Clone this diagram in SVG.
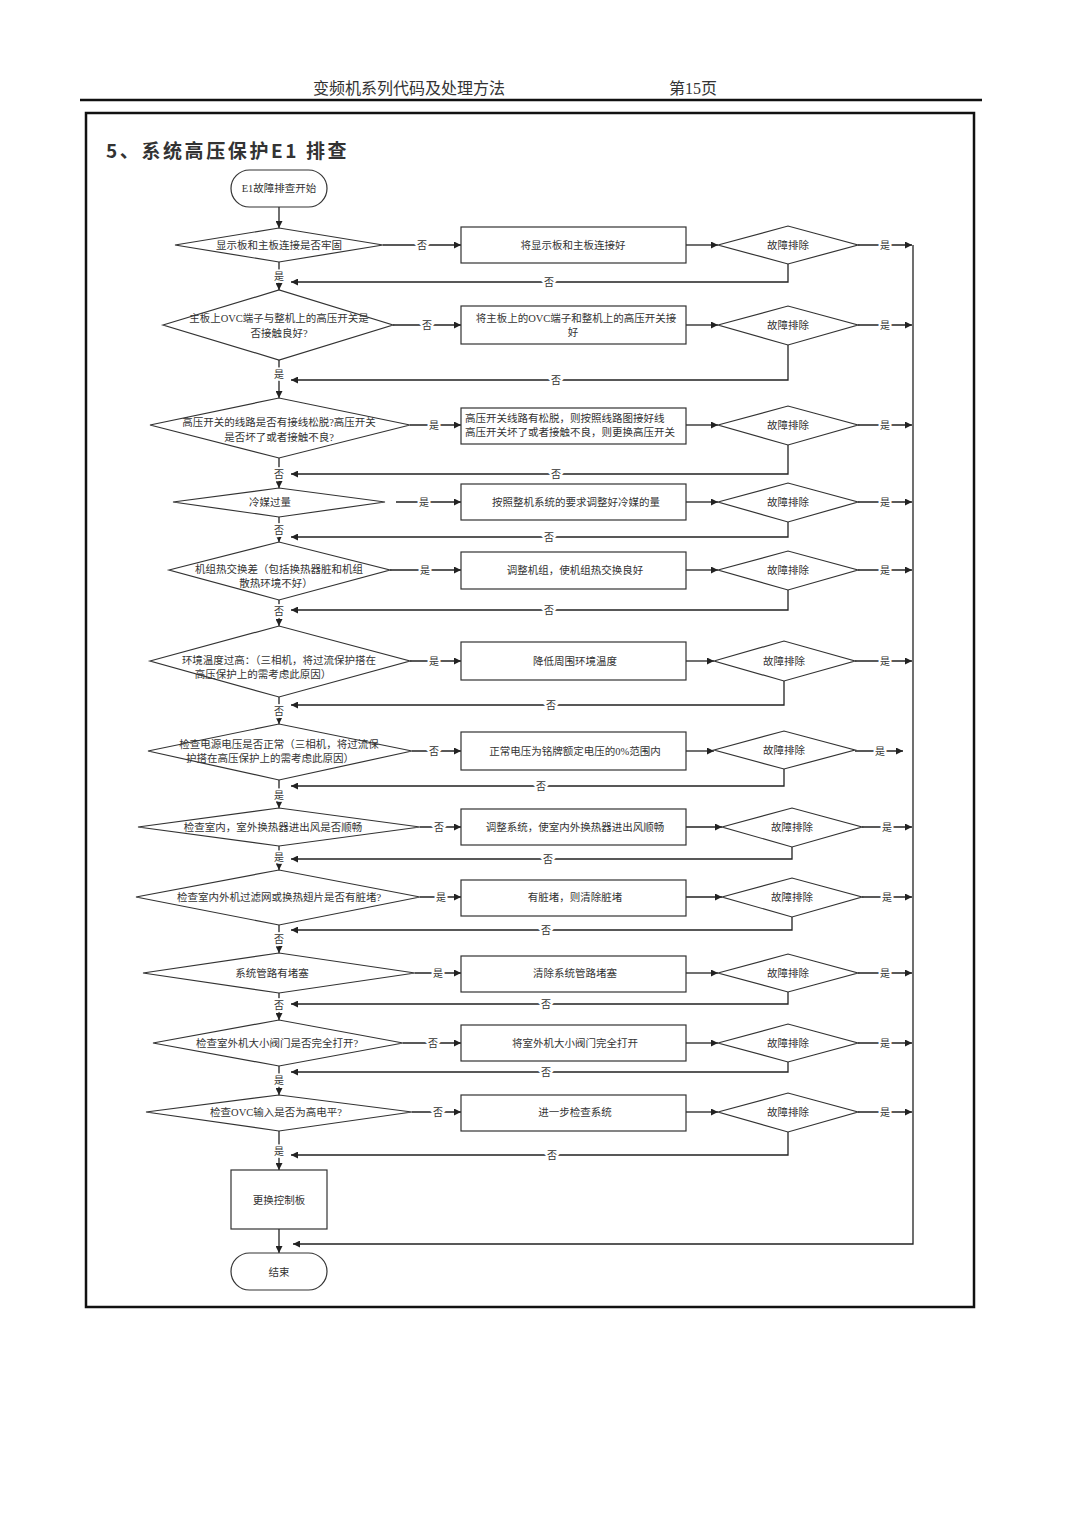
<svg xmlns="http://www.w3.org/2000/svg" width="1080" height="1527" viewBox="0 0 1080 1527">
<defs>
<marker id="ah" viewBox="0 0 10 10" refX="10" refY="5" markerWidth="7" markerHeight="7" markerUnits="userSpaceOnUse" orient="auto"><path d="M0,0 L10,5 L0,10 z" fill="#222"/></marker>
<style>
.n{fill:#fff;stroke:#333;stroke-width:1.2}
.t{font-family:"Liberation Serif","Noto Sans CJK SC",serif;font-size:10.5px;fill:#333;text-anchor:middle;dominant-baseline:central}
.tl{font-family:"Liberation Serif","Noto Sans CJK SC",serif;font-size:10.5px;fill:#333;dominant-baseline:central}
.c{fill:none;stroke:#222;stroke-width:1.3;marker-end:url(#ah)}
.cl{fill:none;stroke:#222;stroke-width:1.3}
.lb{font-family:"Liberation Serif","Noto Sans CJK SC",serif;font-size:10px;fill:#333;text-anchor:middle;dominant-baseline:central;stroke:#fff;stroke-width:4;paint-order:stroke}
</style>
</defs>
<rect width="1080" height="1527" fill="#fff"/>
<g id="header">
<text x="409" y="88" font-family="Liberation Serif,Noto Sans CJK SC,serif" font-size="16" fill="#333" text-anchor="middle" dominant-baseline="central">变频机系列代码及处理方法</text>
<text x="693" y="88" font-family="Liberation Serif,Noto Sans CJK SC,serif" font-size="16" fill="#333" text-anchor="middle" dominant-baseline="central">第15页</text>
<line x1="80" y1="100" x2="982" y2="100" stroke="#111" stroke-width="2.5"/>
<rect x="86" y="113" width="888" height="1194" fill="none" stroke="#111" stroke-width="2.5"/>
<text x="106" y="149" font-family="Noto Sans CJK SC,sans-serif" font-size="19" font-weight="bold" fill="#333" letter-spacing="2.6" dominant-baseline="central">5、系统高压保护E1 排查</text>
</g>
<g id="connectors">
<line class="c" x1="279" y1="207" x2="279" y2="228"/>
<line class="c" x1="279" y1="262" x2="279" y2="290"/>
<line class="c" x1="279" y1="360" x2="279" y2="398"/>
<line class="c" x1="279" y1="458" x2="279" y2="488"/>
<line class="c" x1="279" y1="517" x2="279" y2="542"/>
<line class="c" x1="279" y1="600" x2="279" y2="626"/>
<line class="c" x1="279" y1="697" x2="279" y2="724"/>
<line class="c" x1="279" y1="780" x2="279" y2="808"/>
<line class="c" x1="279" y1="846" x2="279" y2="870"/>
<line class="c" x1="279" y1="925" x2="279" y2="953"/>
<line class="c" x1="279" y1="993" x2="279" y2="1020"/>
<line class="c" x1="279" y1="1066" x2="279" y2="1095"/>
<line class="c" x1="279" y1="1131" x2="279" y2="1170"/>
<line class="c" x1="279" y1="1229" x2="279" y2="1253"/>
<line class="c" x1="383" y1="245" x2="461" y2="245"/>
<line class="c" x1="393" y1="325" x2="461" y2="325"/>
<line class="c" x1="410" y1="425" x2="461" y2="425"/>
<line class="c" x1="396" y1="502" x2="461" y2="502"/>
<line class="c" x1="390" y1="570" x2="461" y2="570"/>
<line class="c" x1="410" y1="661" x2="461" y2="661"/>
<line class="c" x1="412" y1="751" x2="461" y2="751"/>
<line class="c" x1="420" y1="827" x2="461" y2="827"/>
<line class="c" x1="420" y1="897" x2="461" y2="897"/>
<line class="c" x1="415" y1="973" x2="461" y2="973"/>
<line class="c" x1="403" y1="1043" x2="461" y2="1043"/>
<line class="c" x1="412" y1="1112" x2="461" y2="1112"/>
<line class="c" x1="686" y1="245" x2="718" y2="245"/>
<line class="c" x1="686" y1="325" x2="718" y2="325"/>
<line class="c" x1="686" y1="425" x2="718" y2="425"/>
<line class="c" x1="686" y1="502" x2="718" y2="502"/>
<line class="c" x1="686" y1="570" x2="718" y2="570"/>
<line class="c" x1="686" y1="661" x2="714" y2="661"/>
<line class="c" x1="686" y1="751" x2="714" y2="751"/>
<line class="c" x1="686" y1="827" x2="722" y2="827"/>
<line class="c" x1="686" y1="897" x2="722" y2="897"/>
<line class="c" x1="686" y1="973" x2="718" y2="973"/>
<line class="c" x1="686" y1="1043" x2="718" y2="1043"/>
<line class="c" x1="686" y1="1112" x2="718" y2="1112"/>
<line class="c" x1="858" y1="245" x2="912" y2="245"/>
<line class="c" x1="858" y1="325" x2="912" y2="325"/>
<line class="c" x1="858" y1="425" x2="912" y2="425"/>
<line class="c" x1="858" y1="502" x2="912" y2="502"/>
<line class="c" x1="858" y1="570" x2="912" y2="570"/>
<line class="c" x1="855" y1="661" x2="912" y2="661"/>
<line class="c" x1="855" y1="751" x2="903" y2="751"/>
<line class="c" x1="862" y1="827" x2="912" y2="827"/>
<line class="c" x1="862" y1="897" x2="912" y2="897"/>
<line class="c" x1="858" y1="973" x2="912" y2="973"/>
<line class="c" x1="858" y1="1043" x2="912" y2="1043"/>
<line class="c" x1="858" y1="1112" x2="912" y2="1112"/>
<path class="c" d="M788,264 V282 H291"/>
<path class="c" d="M788,345 V380 H291"/>
<path class="c" d="M788,445 V474 H291"/>
<path class="c" d="M788,522 V537 H291"/>
<path class="c" d="M788,590 V610 H291"/>
<path class="c" d="M784,681 V705 H291"/>
<path class="c" d="M784,769 V786 H291"/>
<path class="c" d="M792,847 V859 H291"/>
<path class="c" d="M792,917 V930 H291"/>
<path class="c" d="M788,992 V1004 H291"/>
<path class="c" d="M788,1062 V1072 H291"/>
<path class="c" d="M788,1132 V1155 H291"/>
<path class="c" d="M913,245 V1244 H293"/>
<text class="lb" x="422" y="245">否</text>
<text class="lb" x="427" y="325">否</text>
<text class="lb" x="434" y="425">是</text>
<text class="lb" x="424" y="502">是</text>
<text class="lb" x="425" y="570">是</text>
<text class="lb" x="434" y="661">是</text>
<text class="lb" x="434" y="751">否</text>
<text class="lb" x="439" y="827">否</text>
<text class="lb" x="441" y="897">是</text>
<text class="lb" x="438" y="973">是</text>
<text class="lb" x="433" y="1043">否</text>
<text class="lb" x="438" y="1112">否</text>
<text class="lb" x="885" y="245">是</text>
<text class="lb" x="885" y="325">是</text>
<text class="lb" x="885" y="425">是</text>
<text class="lb" x="885" y="502">是</text>
<text class="lb" x="885" y="570">是</text>
<text class="lb" x="885" y="661">是</text>
<text class="lb" x="880" y="751">是</text>
<text class="lb" x="887" y="827">是</text>
<text class="lb" x="887" y="897">是</text>
<text class="lb" x="885" y="973">是</text>
<text class="lb" x="885" y="1043">是</text>
<text class="lb" x="885" y="1112">是</text>
<text class="lb" x="549" y="282">否</text>
<text class="lb" x="556" y="380">否</text>
<text class="lb" x="556" y="474">否</text>
<text class="lb" x="549" y="537">否</text>
<text class="lb" x="549" y="610">否</text>
<text class="lb" x="551" y="705">否</text>
<text class="lb" x="541" y="786">否</text>
<text class="lb" x="548" y="859">否</text>
<text class="lb" x="546" y="930">否</text>
<text class="lb" x="546" y="1004">否</text>
<text class="lb" x="546" y="1072">否</text>
<text class="lb" x="552" y="1155">否</text>
<text class="lb" x="279" y="276">是</text>
<text class="lb" x="279" y="374">是</text>
<text class="lb" x="279" y="474">否</text>
<text class="lb" x="279" y="530">否</text>
<text class="lb" x="279" y="611">否</text>
<text class="lb" x="279" y="711">否</text>
<text class="lb" x="279" y="795">是</text>
<text class="lb" x="279" y="857">是</text>
<text class="lb" x="279" y="939">否</text>
<text class="lb" x="279" y="1005">否</text>
<text class="lb" x="279" y="1080">是</text>
<text class="lb" x="279" y="1151">是</text>
</g>
<g id="start"><rect class="n" x="231" y="170" width="96" height="37" rx="18.5"/><text class="t" x="279" y="188">E1故障排查开始</text></g>
<g id="d1"><polygon class="n" points="175,245 279,228 383,245 279,262"/><text class="t" x="279" y="245">显示板和主板连接是否牢固</text></g>
<g id="b1"><rect class="n" x="461" y="227" width="225" height="36"/><text class="t" x="573" y="245">将显示板和主板连接好</text></g>
<g id="f1"><polygon class="n" points="718,245 788,226 858,245 788,264"/><text class="t" x="788" y="245">故障排除</text></g>
<g id="d2"><polygon class="n" points="163,325 279,290 393,325 279,360"/><text class="t" x="279" y="318">主板上OVC端子与整机上的高压开关是</text><text class="t" x="279" y="333">否接触良好?</text></g>
<g id="b2"><rect class="n" x="461" y="306" width="225" height="38"/><text class="t" x="576" y="318">将主板上的OVC端子和整机上的高压开关接</text><text class="t" x="573" y="332">好</text></g>
<g id="f2"><polygon class="n" points="718,325 788,306 858,325 788,345"/><text class="t" x="788" y="325">故障排除</text></g>
<g id="d3"><polygon class="n" points="150,425 279,398 410,425 279,458"/><text class="t" x="279" y="422">高压开关的线路是否有接线松脱?高压开关</text><text class="t" x="279" y="437">是否坏了或者接触不良?</text></g>
<g id="b3"><rect class="n" x="461" y="408" width="225" height="36"/><text class="tl" x="465" y="418">高压开关线路有松脱，则按照线路图接好线</text><text class="tl" x="465" y="432">高压开关坏了或者接触不良，则更换高压开关</text></g>
<g id="f3"><polygon class="n" points="718,425 788,406 858,425 788,445"/><text class="t" x="788" y="425">故障排除</text></g>
<g id="d4"><polygon class="n" points="173,502 279,488 385,502 279,517"/><text class="t" x="270" y="502">冷媒过量</text></g>
<g id="b4"><rect class="n" x="461" y="484" width="225" height="36"/><text class="t" x="576" y="502">按照整机系统的要求调整好冷媒的量</text></g>
<g id="f4"><polygon class="n" points="718,502 788,483 858,502 788,522"/><text class="t" x="788" y="502">故障排除</text></g>
<g id="d5"><polygon class="n" points="169,570 279,542 390,570 279,600"/><text class="t" x="279" y="569">机组热交换差（包括换热器脏和机组</text><text class="t" x="276" y="583">散热环境不好）</text></g>
<g id="b5"><rect class="n" x="461" y="552" width="225" height="37"/><text class="t" x="575" y="570">调整机组，使机组热交换良好</text></g>
<g id="f5"><polygon class="n" points="718,570 788,551 858,570 788,590"/><text class="t" x="788" y="570">故障排除</text></g>
<g id="d6"><polygon class="n" points="150,661 279,626 410,661 279,697"/><text class="t" x="279" y="660">环境温度过高：（三相机，将过流保护搭在</text><text class="t" x="263" y="674">高压保护上的需考虑此原因）</text></g>
<g id="b6"><rect class="n" x="461" y="642" width="225" height="38"/><text class="t" x="575" y="661">降低周围环境温度</text></g>
<g id="f6"><polygon class="n" points="714,661 784,641 855,661 784,681"/><text class="t" x="784" y="661">故障排除</text></g>
<g id="d7"><polygon class="n" points="148,751 279,724 412,751 279,780"/><text class="t" x="279" y="744">检查电源电压是否正常（三相机，将过流保</text><text class="t" x="270" y="758">护搭在高压保护上的需考虑此原因）</text></g>
<g id="b7"><rect class="n" x="461" y="732" width="225" height="38"/><text class="t" x="575" y="751">正常电压为铭牌额定电压的0%范围内</text></g>
<g id="f7"><polygon class="n" points="714,750 784,731 855,750 784,769"/><text class="t" x="784" y="750">故障排除</text></g>
<g id="d8"><polygon class="n" points="138,827 279,808 420,827 279,846"/><text class="t" x="273" y="827">检查室内，室外换热器进出风是否顺畅</text></g>
<g id="b8"><rect class="n" x="461" y="809" width="225" height="36"/><text class="t" x="575" y="827">调整系统，使室内外换热器进出风顺畅</text></g>
<g id="f8"><polygon class="n" points="722,827 792,808 862,827 792,847"/><text class="t" x="792" y="827">故障排除</text></g>
<g id="d9"><polygon class="n" points="136,897 279,870 420,897 279,925"/><text class="t" x="279" y="897">检查室内外机过滤网或换热翅片是否有脏堵?</text></g>
<g id="b9"><rect class="n" x="461" y="880" width="225" height="36"/><text class="t" x="575" y="897">有脏堵，则清除脏堵</text></g>
<g id="f9"><polygon class="n" points="722,897 792,878 862,897 792,917"/><text class="t" x="792" y="897">故障排除</text></g>
<g id="d10"><polygon class="n" points="143,973 279,953 415,973 279,993"/><text class="t" x="272" y="973">系统管路有堵塞</text></g>
<g id="b10"><rect class="n" x="461" y="956" width="225" height="36"/><text class="t" x="575" y="973">清除系统管路堵塞</text></g>
<g id="f10"><polygon class="n" points="718,973 788,954 858,973 788,992"/><text class="t" x="788" y="973">故障排除</text></g>
<g id="d11"><polygon class="n" points="153,1043 279,1020 403,1043 279,1066"/><text class="t" x="277" y="1043">检查室外机大小阀门是否完全打开?</text></g>
<g id="b11"><rect class="n" x="461" y="1025" width="225" height="36"/><text class="t" x="575" y="1043">将室外机大小阀门完全打开</text></g>
<g id="f11"><polygon class="n" points="718,1043 788,1024 858,1043 788,1062"/><text class="t" x="788" y="1043">故障排除</text></g>
<g id="d12"><polygon class="n" points="146,1112 279,1095 412,1112 279,1131"/><text class="t" x="276" y="1112">检查OVC输入是否为高电平?</text></g>
<g id="b12"><rect class="n" x="461" y="1095" width="225" height="36"/><text class="t" x="575" y="1112">进一步检查系统</text></g>
<g id="f12"><polygon class="n" points="718,1112 788,1093 858,1112 788,1132"/><text class="t" x="788" y="1112">故障排除</text></g>
<g id="replace"><rect class="n" x="231" y="1170" width="96" height="59"/><text class="t" x="279" y="1200">更换控制板</text></g>
<g id="end"><rect class="n" x="231" y="1253" width="96" height="37" rx="18.5"/><text class="t" x="279" y="1272">结束</text></g>
</svg>
